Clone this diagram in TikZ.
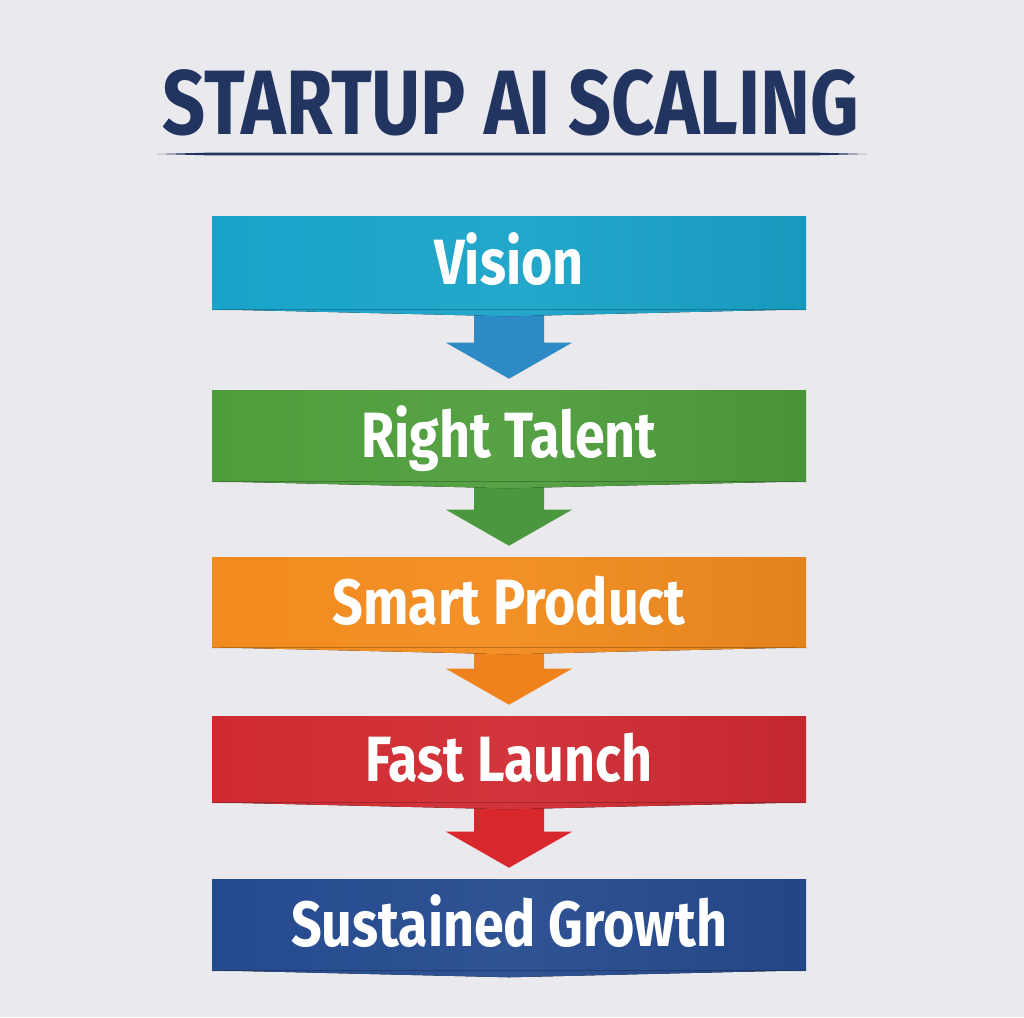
\documentclass[tikz,border=0pt]{standalone}
\usepackage{fontspec}
\usetikzlibrary{calc,shadows}
\setmainfont{Fira Sans}
\newfontfamily\stagefont{Fira Sans}[FakeStretch=0.84]
\newfontfamily\titlefont{Fira Sans}[FakeStretch=0.825]

\definecolor{paper}{HTML}{EAE9EE}
\definecolor{titlenavy}{HTML}{223560}
\definecolor{visioncyan}{HTML}{18A3C8}
\definecolor{talentgreen}{HTML}{4E9D3C}
\definecolor{productorange}{HTML}{F28B1D}
\definecolor{launchred}{HTML}{D02A31}
\definecolor{growthblue}{HTML}{244A8E}
\definecolor{arrowblue}{HTML}{2E8AC5}
\definecolor{arrowgreen}{HTML}{4A983D}
\definecolor{arroworange}{HTML}{F0821E}
\definecolor{arrowred}{HTML}{D8282E}

\tikzset{
  stage/.style={rectangle, inner sep=0pt, minimum width=445.5pt, minimum height=#1,
    text height=33pt, text depth=0pt, text=white,
    font=\stagefont\bfseries\fontsize{48}{48}\selectfont,
    drop shadow={opacity=0.12, shadow xshift=0pt, shadow yshift=-1.5pt}},
}

% block arrow from one stage down to the next
\newcommand{\stagearrow}[3]{%
  \fill[#3] ($(#1.south)+(-35,0)$) -- ($(#2.north)+(-35,-47)$) -- ($(#2.north)+(-63,-47)$)
    -- ($(#2.north)+(0,-11)$) -- ($(#2.north)+(63,-47)$) -- ($(#2.north)+(35,-47)$)
    -- ($(#1.south)+(35,0)$) -- cycle;}

\begin{document}
\begin{tikzpicture}[x=0.75pt,y=-0.75pt]

    \useasboundingbox[fill=paper] (0,0) rectangle (1024,1017);

    \node[titlenavy, font=\titlefont\bfseries\fontsize{68.6}{68.6}\selectfont,
      inner sep=0pt, text height=47.3pt, text depth=0pt] (title) at (511,102.5) {STARTUP AI SCALING};
    \fill[titlenavy] (157,154) -- (210,152.6) -- (814,152.6) -- (867,154) -- (814,155.4) -- (210,155.4) -- cycle;

    \foreach \name/\y/\h/\col/\txt in {vision/262.5/69.75pt/visioncyan/Vision,
        talent/435.5/68.25pt/talentgreen/Right Talent,
        product/602/67.5pt/productorange/Smart Product,
        launch/759/64.5pt/launchred/Fast Launch,
        growth/924.5/68.25pt/growthblue/Sustained Growth}
      \node[stage=\h, left color=\col, right color=\col!94!black, middle color=\col!95!white] (\name) at (509,\y) {\txt};

    \foreach \a/\b/\c in {vision/talent/arrowblue, talent/product/arrowgreen,
        product/launch/arroworange, launch/growth/arrowred}
      \stagearrow{\a}{\b}{\c};

    \foreach \name/\col in {vision/visioncyan, talent/talentgreen, product/productorange,
        launch/launchred, growth/growthblue}
      \fill[left color=\col, right color=\col!94!black, middle color=\col!95!white]
        (\name.south west) -- ($(\name.south)+(0,7)$) -- (\name.south east) -- cycle;

\end{tikzpicture}
\end{document}
